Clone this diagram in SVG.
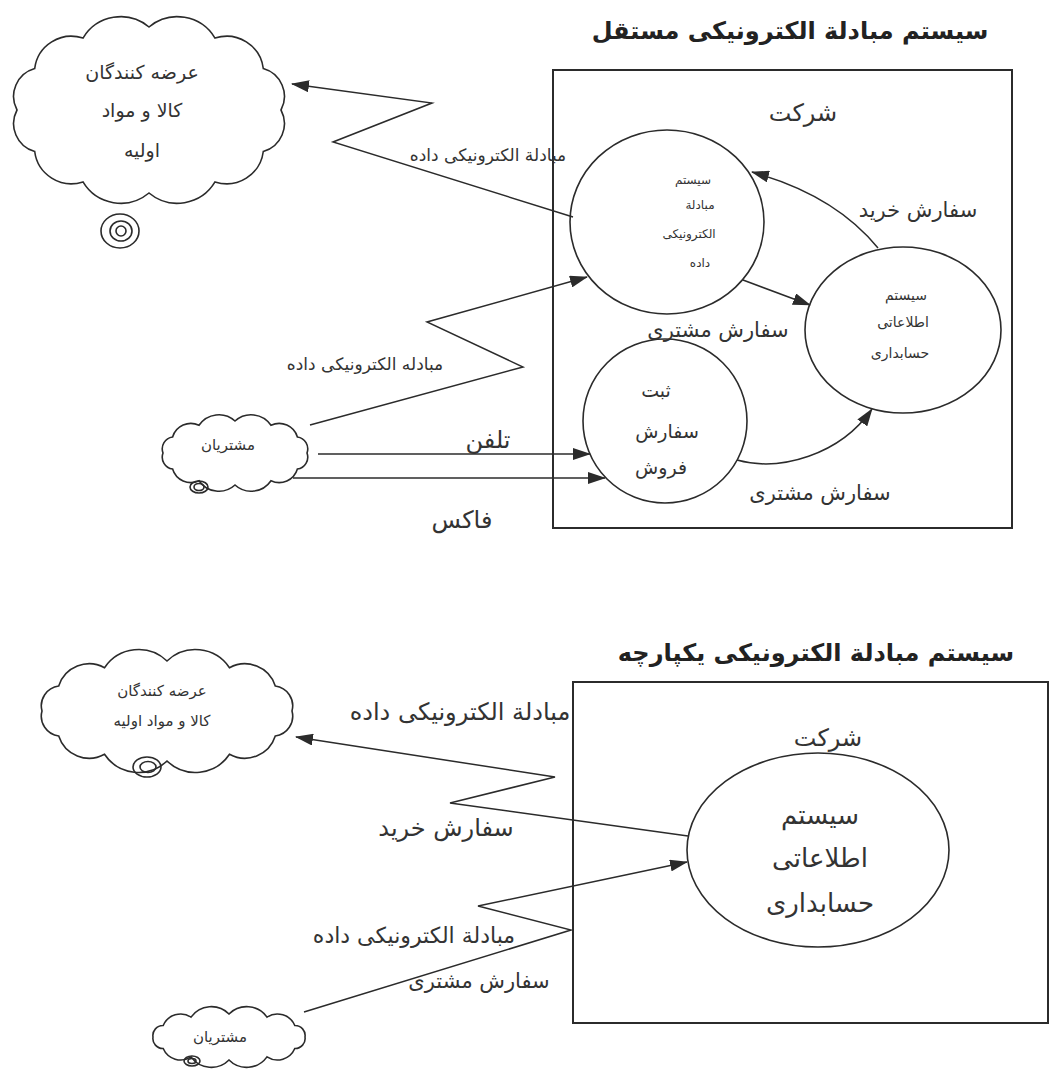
<svg xmlns="http://www.w3.org/2000/svg" width="1052" height="1070" viewBox="0 0 1052 1070">
<style>
.bg{fill:#ffffff}
.shape{fill:none;stroke:#2b2b2b;stroke-width:1.6}
.box{fill:none;stroke:#2b2b2b;stroke-width:2}
.conn{fill:none;stroke:#2b2b2b;stroke-width:1.5}
text{font-family:"DejaVu Sans","Noto Sans",sans-serif;fill:#333333;text-anchor:middle}
.title{font-size:24px;font-weight:bold;fill:#222222}
.co{font-size:24px}
.big{font-size:26px}
.lbl{font-size:21px}
.lbl2{font-size:24px}
.lbl3{font-size:22px}
.mid{font-size:19px}
.sm{font-size:17px}
.c1{font-size:12px}
.c2{font-size:14px}
.xs{font-size:15px}
</style>
<defs>
<marker id="arrow" viewBox="0 0 18 12" refX="17" refY="6" markerWidth="18" markerHeight="12" markerUnits="userSpaceOnUse" orient="auto">
<path d="M0,0 L18,6 L0,12 Z" fill="#2b2b2b"/>
</marker>
</defs>
<rect class="bg" x="0" y="0" width="1052" height="1070"/>

<!-- ===== Top diagram ===== -->
<g id="title-top"><text class="title" x="790" y="39">سیستم مبادلة الکترونیکی مستقل</text></g>

<g id="company-top">
<rect class="box" x="553" y="70" width="459" height="458"/>
<text class="co" x="803" y="121">شرکت</text>
</g>

<g id="supplier-top">
<path class="shape" d="M281,110 A29,29 0 0 1 263.3,151.5 A37,37 0 0 1 215,181.9 A44,44 0 0 1 149,193 A44,44 0 0 1 83,181.9 A37,37 0 0 1 34.7,151.5 A29,29 0 0 1 17,110 A29,29 0 0 1 34.7,68.5 A37,37 0 0 1 83,38.1 A44,44 0 0 1 149,27 A44,44 0 0 1 215,38.1 A37,37 0 0 1 263.3,68.5 A29,29 0 0 1 281,110 Z"/>
<ellipse class="shape" cx="120" cy="231" rx="19" ry="17"/>
<ellipse class="shape" cx="121" cy="231" rx="11" ry="10"/>
<ellipse class="shape" cx="121" cy="231" rx="5" ry="5"/>
<text class="mid" x="142" y="79">عرضه کنندگان</text>
<text class="mid" x="142" y="117">کالا و مواد</text>
<text class="mid" x="142" y="157">اولیه</text>
</g>

<g id="customer-top">
<path class="shape" d="M307,453 A12,12 0 0 1 297.4,469 A19,19 0 0 1 271,480.7 A24,24 0 0 1 235,485 A24,24 0 0 1 199,480.7 A19,19 0 0 1 172.6,469 A12,12 0 0 1 163,453 A12,12 0 0 1 172.6,437 A19,19 0 0 1 199,425.3 A24,24 0 0 1 235,421 A24,24 0 0 1 271,425.3 A19,19 0 0 1 297.4,437 A12,12 0 0 1 307,453 Z"/>
<ellipse class="shape" cx="199" cy="487" rx="9" ry="6"/>
<ellipse class="shape" cx="199" cy="487" rx="5" ry="3.5"/>
<text class="xs" x="228" y="450">مشتریان</text>
</g>

<g id="edi-system">
<ellipse class="shape" cx="667" cy="222" rx="97" ry="92"/>
<text class="c1" x="693" y="184">سیستم</text>
<text class="c1" x="700" y="209">مبادلة</text>
<text class="c1" x="689" y="238">الکترونیکی</text>
<text class="c1" x="700" y="267">داده</text>
</g>

<g id="accounting-top">
<ellipse class="shape" cx="903" cy="330" rx="98" ry="83"/>
<text class="c2" x="906" y="300">سیستم</text>
<text class="c2" x="903" y="327">اطلاعاتی</text>
<text class="c2" x="900" y="358">حسابداری</text>
</g>

<g id="sales-order">
<ellipse class="shape" cx="665" cy="421" rx="82" ry="82"/>
<text class="mid" x="656" y="397">ثبت</text>
<text class="mid" x="667" y="438">سفارش</text>
<text class="mid" x="661" y="474">فروش</text>
</g>

<!-- ===== Bottom diagram ===== -->
<g id="title-bottom"><text class="title" x="816" y="661">سیستم مبادلة الکترونیکی یکپارچه</text></g>

<g id="company-bottom">
<rect class="box" x="573" y="682" width="475" height="341"/>
<text class="co" x="828" y="746">شرکت</text>
</g>

<g id="supplier-bottom">
<path class="shape" d="M292,711 A20,20 0 0 1 275.3,736 A32,32 0 0 1 229.5,754.3 A41,41 0 0 1 167,761 A41,41 0 0 1 104.5,754.3 A32,32 0 0 1 58.7,736 A20,20 0 0 1 42,711 A20,20 0 0 1 58.7,686 A32,32 0 0 1 104.5,667.7 A41,41 0 0 1 167,661 A41,41 0 0 1 229.5,667.7 A32,32 0 0 1 275.3,686 A20,20 0 0 1 292,711 Z"/>
<ellipse class="shape" cx="147" cy="767" rx="14" ry="10"/>
<ellipse class="shape" cx="148" cy="767" rx="8" ry="5.5"/>
<text class="xs" x="162" y="696">عرضه کنندگان</text>
<text class="xs" x="162" y="726">کالا و مواد اولیه</text>
</g>

<g id="customer-bottom">
<path class="shape" d="M305,1037 A10,10 0 0 1 294.8,1048.5 A19,19 0 0 1 267,1056.9 A25,25 0 0 1 229,1060 A25,25 0 0 1 191,1056.9 A19,19 0 0 1 163.2,1048.5 A10,10 0 0 1 153,1037 A10,10 0 0 1 163.2,1025.5 A19,19 0 0 1 191,1017.1 A25,25 0 0 1 229,1014 A25,25 0 0 1 267,1017.1 A19,19 0 0 1 294.8,1025.5 A10,10 0 0 1 305,1037 Z"/>
<ellipse class="shape" cx="192" cy="1061" rx="8" ry="5"/>
<ellipse class="shape" cx="192" cy="1061" rx="4" ry="2.5"/>
<text class="xs" x="220" y="1042">مشتریان</text>
</g>

<g id="accounting-bottom">
<ellipse class="shape" cx="818" cy="850" rx="131" ry="97"/>
<text class="big" x="820" y="824">سیستم</text>
<text class="big" x="820" y="867">اطلاعاتی</text>
<text class="big" x="820" y="912">حسابداری</text>
</g>

<!-- ===== Connectors ===== -->
<g id="connectors">
<polyline class="conn" points="573,217 333,142 432,103 292,84" marker-end="url(#arrow)"/>
<polyline class="conn" points="310,425 523,367 427,322 587,277" marker-end="url(#arrow)"/>
<line class="conn" x1="318" y1="454" x2="590" y2="454" marker-end="url(#arrow)"/>
<line class="conn" x1="293" y1="478" x2="605" y2="478" marker-end="url(#arrow)"/>
<path class="conn" d="M878,248 Q835,195 752,172" marker-end="url(#arrow)"/>
<line class="conn" x1="743" y1="280" x2="810" y2="305" marker-end="url(#arrow)"/>
<path class="conn" d="M737,460 C780,472 840,455 872,409" marker-end="url(#arrow)"/>
<polyline class="conn" points="688,836 450,803 555,777 296,737" marker-end="url(#arrow)"/>
<polyline class="conn" points="304,1012 571,930 478,906 687,862" marker-end="url(#arrow)"/>
</g>

<g id="connector-labels">
<text class="sm" x="488" y="161">مبادلة الکترونیکی داده</text>
<text class="sm" x="365" y="370">مبادله الکترونیکی داده</text>
<text class="lbl2" x="488" y="448">تلفن</text>
<text class="lbl2" x="462" y="528">فاکس</text>
<text class="lbl" x="918" y="217">سفارش خرید</text>
<text class="lbl" x="718" y="337">سفارش مشتری</text>
<text class="lbl" x="820" y="500">سفارش مشتری</text>
<text class="lbl2" x="460" y="720">مبادلة الکترونیکی داده</text>
<text class="lbl2" x="446" y="836">سفارش خرید</text>
<text class="lbl3" x="414" y="943">مبادلة الکترونیکی داده</text>
<text class="lbl" x="479" y="988">سفارش مشتری</text>
</g>
</svg>
